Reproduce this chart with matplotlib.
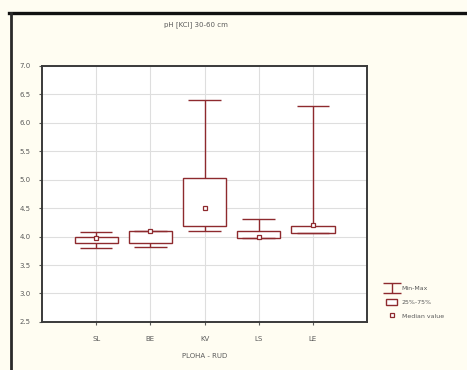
import numpy as np
import matplotlib.pyplot as plt
from matplotlib.lines import Line2D
from matplotlib.patches import Patch
from matplotlib.path import Path

# pH per site: min, quartiles, median, max
sites = ['SL', 'BE', 'KV', 'LS', 'LE']
v_min = [3.80, 3.81, 4.09, 3.97, 4.07]
q1 = [3.88, 3.88, 4.19, 3.98, 4.07]
median = [3.97, 4.09, 4.50, 4.00, 4.21]
q3 = [4.00, 4.09, 5.03, 4.10, 4.19]
v_max = [4.08, 4.10, 6.40, 4.31, 6.30]
y_ticks = [2.5, 3.0, 3.5, 4.0, 4.5, 5.0, 5.5, 6.0, 6.5, 7.0]

red = '#8e2a2e'
txt = '#5a5a5a'
bg = '#fffdf2'

fig = plt.figure(figsize=(4.67, 3.70), dpi=100, facecolor=bg)
ax = fig.add_axes([0.090, 0.130, 0.696, 0.692])
ax.set_facecolor('white')

x = np.arange(len(sites))
box_w = 0.8
cap_w = 0.6

ax.vlines(x, v_min, v_max, color=red, lw=1.0, zorder=2)
ax.bar(x, np.array(q3) - np.array(q1), bottom=q1, width=box_w,
       facecolor='white', edgecolor=red, lw=1.0, zorder=3)
ax.hlines(v_min, x - cap_w / 2, x + cap_w / 2, color=red, lw=1.0, zorder=3)
ax.hlines(v_max, x - cap_w / 2, x + cap_w / 2, color=red, lw=1.0, zorder=3)
ax.plot(x, median, 's', ms=3.5, mfc='white', mec=red, mew=0.9,
        ls='none', zorder=4)

ax.set_xlim(-1, 5)
ax.set_ylim(2.5, 7.0)
ax.set_xticks(x)
ax.set_xticklabels(sites)
ax.set_yticks(y_ticks)
ax.set_yticklabels(['%.1f' % t for t in y_ticks])
ax.grid(True, color='#dedede', lw=0.8, zorder=0)
ax.set_axisbelow(True)
ax.tick_params(labelsize=5, colors=txt, length=2, width=0.8, pad=6)
ax.tick_params(axis='x', pad=8)
for s in ax.spines.values():
    s.set_color('#3a3a3a')
    s.set_linewidth(1.4)

ax.set_xlabel('PLOHA - RUD', fontsize=5, color=txt, labelpad=8)
fig.text(0.42, 0.93, 'pH [KCl] 30-60 cm', fontsize=5, color=txt, ha='center')

# legend symbols
i_shape = Path([(-1.7, 1), (1.7, 1), (0, 1), (0, -1), (-1.7, -1), (1.7, -1)],
               [Path.MOVETO, Path.LINETO, Path.MOVETO, Path.LINETO,
                Path.MOVETO, Path.LINETO])
handles = [
    Line2D([], [], marker=i_shape, ls='none', ms=13, mfc='none', mec=red, mew=1.0),
    Patch(facecolor='white', edgecolor=red, lw=1.0),
    Line2D([], [], marker='s', ls='none', ms=2.5, mfc='white', mec=red, mew=0.9),
]
leg = fig.legend(handles, ['Min-Max', '25%-75%', 'Median value'],
                 loc='upper left', bbox_to_anchor=(0.815, 0.245),
                 frameon=False, fontsize=4.5, handlelength=1.8,
                 handleheight=1.3, labelspacing=1.1, handletextpad=0.7)
for t in leg.get_texts():
    t.set_color(txt)

# outer frame lines
fig.add_artist(Line2D([0.019, 1.0], [0.966, 0.966], color='#111111', lw=2.4))
fig.add_artist(Line2D([0.0225, 0.0225], [0.0, 0.966], color='#2a2a2a', lw=2.0))

fig.savefig('out.png', dpi=100, facecolor=bg)
